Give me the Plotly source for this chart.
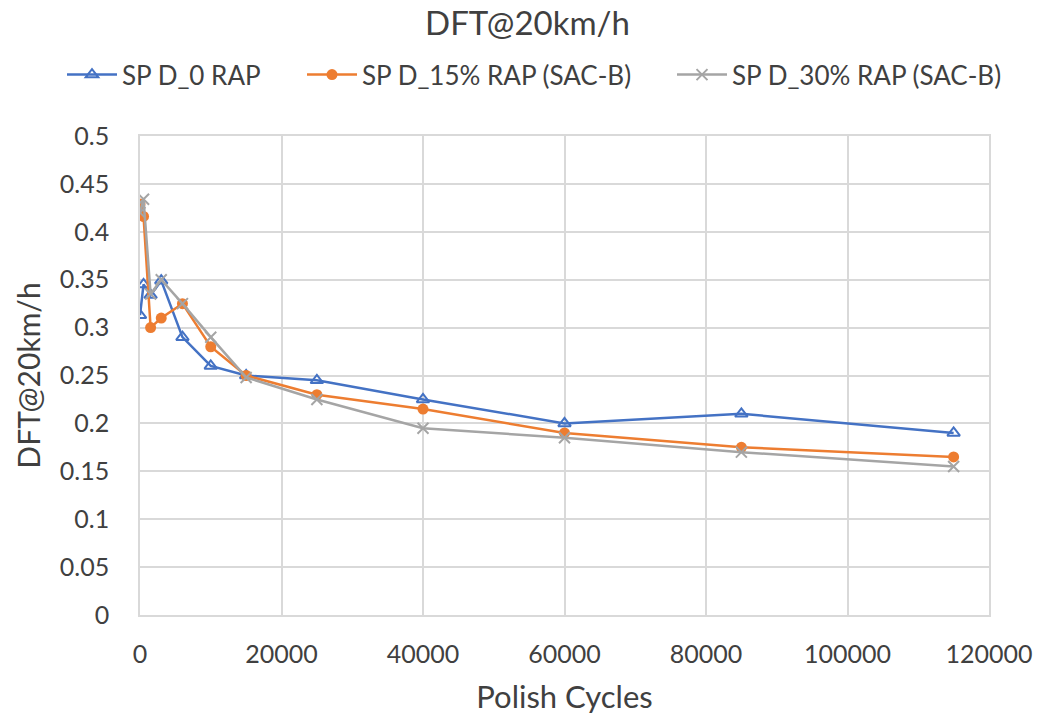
import plotly.graph_objects as go

cycles = [0, 500, 1500, 3000, 6000, 10000, 15000, 25000, 40000, 60000, 85000, 115000]
sp_d_0 = [0.313, 0.345, 0.334, 0.349, 0.29, 0.26, 0.25, 0.245, 0.225, 0.2, 0.21, 0.19]
sp_d_15 = [0.429, 0.416, 0.3, 0.31, 0.325, 0.28, 0.25, 0.23, 0.215, 0.19, 0.175, 0.165]
sp_d_30 = [0.42, 0.434, 0.335, 0.35, 0.325, 0.29, 0.248, 0.225, 0.195, 0.185, 0.17, 0.155]

x_ticks = [0, 20000, 40000, 60000, 80000, 100000, 120000]
y_ticks = [0, 0.05, 0.1, 0.15, 0.2, 0.25, 0.3, 0.35, 0.4, 0.45, 0.5]
y_labels = ["0", "0.05", "0.1", "0.15", "0.2", "0.25", "0.3", "0.35", "0.4", "0.45", "0.5"]

FONT = "Lato, Open Sans, sans-serif"
TXT = "#404040"
fig = go.Figure()
fig.add_trace(go.Scatter(
    x=cycles, y=sp_d_0, mode="lines+markers", name="SP D_0 RAP", legend="legend",
    line=dict(color="#4472C4", width=2.5),
    marker=dict(symbol="triangle-up-open", size=11, color="#4472C4", line=dict(width=2, color="#4472C4")),
))
fig.add_trace(go.Scatter(
    x=cycles, y=sp_d_15, mode="lines+markers", name="SP D_15% RAP (SAC-B)", legend="legend2",
    line=dict(color="#ED7D31", width=2.5),
    marker=dict(symbol="circle", size=11, color="#ED7D31"),
))
fig.add_trace(go.Scatter(
    x=cycles, y=sp_d_30, mode="lines+markers", name="SP D_30% RAP (SAC-B)", legend="legend3",
    line=dict(color="#A5A5A5", width=2.5),
    marker=dict(symbol="x-thin-open", size=11, color="#A5A5A5", line=dict(width=2, color="#A5A5A5")),
))

L = 140.0
W = 849.0
def px(p):
    return (p - L) / W

leg_common = dict(orientation="h", xanchor="left", y=1.128, yanchor="middle",
                  font=dict(size=26, color=TXT, family=FONT), itemwidth=50,
                  bgcolor="rgba(0,0,0,0)")

fig.update_layout(
    width=1055, height=720,
    paper_bgcolor="white", plot_bgcolor="white",
    margin=dict(l=140, r=66, t=136, b=105),
    font=dict(family=FONT, color=TXT, size=26),
    title=dict(text="DFT@20km/h", x=0.5, xanchor="center", y=0.967, yanchor="middle",
               font=dict(size=33, color=TXT, family=FONT)),
    legend=dict(x=px(62), **leg_common),
    legend2=dict(x=px(302), **leg_common),
    legend3=dict(x=px(672), **leg_common),
    showlegend=True,
)
fig.update_xaxes(
    range=[0, 120000], tickvals=x_ticks, ticktext=[str(v) for v in x_ticks],
    showgrid=True, gridcolor="#D9D9D9", gridwidth=1.5, zeroline=False,
    showline=True, linecolor="#D9D9D9", linewidth=1.5, mirror=True,
    ticks="", ticklabelstandoff=16,
    title=dict(text="Polish Cycles", font=dict(size=31, color=TXT, family=FONT), standoff=20),
    tickfont=dict(size=25, color=TXT),
)
fig.update_yaxes(
    range=[0, 0.5], tickvals=y_ticks, ticktext=y_labels,
    showgrid=True, gridcolor="#D9D9D9", gridwidth=1.5, zeroline=False,
    showline=True, linecolor="#D9D9D9", linewidth=1.5, mirror=True,
    ticks="", ticklabelstandoff=24,
    title=dict(text="DFT@20km/h", font=dict(size=30, color=TXT, family=FONT), standoff=10),
    tickfont=dict(size=25, color=TXT),
)

fig.write_html("out.html")
